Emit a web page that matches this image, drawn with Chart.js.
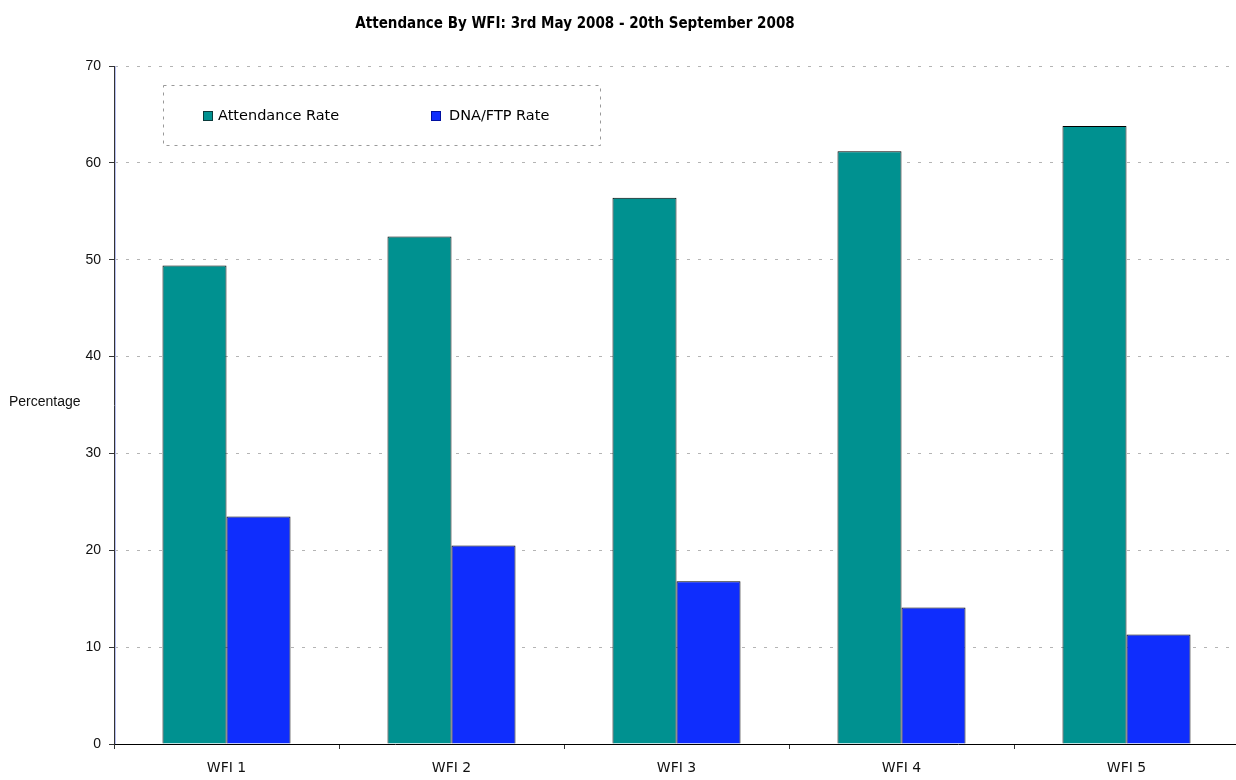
<!DOCTYPE html>
<html>
<head>
<meta charset="utf-8">
<script src="https://cdn.jsdelivr.net/npm/chart.js@4/dist/chart.umd.min.js"></script>
<style>
  html, body { margin: 0; padding: 0; background: #fff; overflow: hidden; }
  canvas { display: block; }
</style>
</head>
<body>
<canvas id="wfiChart" width="1239" height="780"></canvas>
<script>
const categories = ['WFI 1', 'WFI 2', 'WFI 3', 'WFI 4', 'WFI 5'];
const attendanceRate = [49.4, 52.4, 56.4, 61.2, 63.8];
const dnaFtpRate = [23.5, 20.5, 16.8, 14.1, 11.3];
const seriesLabels = ['Attendance Rate', 'DNA/FTP Rate'];
const chartTitle = 'Attendance By WFI: 3rd May 2008 - 20th September 2008';
const yAxisTitle = 'Percentage';

const tealColor = '#009190';
const blueColor = '#0f2dfd';

// title, axis title, legend box drawn on top of the chart
const extras = {
  id: 'extras',
  afterDraw(chart) {
    const c = chart.ctx;
    const area = chart.chartArea;
    c.save();
    // light blue stripe beside the y axis
    c.strokeStyle = '#b8c0f0';
    c.lineWidth = 1;
    c.beginPath();
    c.moveTo(area.left + 1.5, area.top);
    c.lineTo(area.left + 1.5, area.bottom);
    c.stroke();

    c.fillStyle = '#000';
    c.font = 'bold 15px "DejaVu Sans Condensed"';
    c.textAlign = 'center';
    c.textBaseline = 'middle';
    c.fillText(chartTitle, 575, 24);

    c.font = '14px "Liberation Sans"';
    c.textAlign = 'left';
    c.fillStyle = '#111';
    c.fillText(yAxisTitle, 9, 402);

    // legend
    c.setLineDash([3, 5]);
    c.strokeStyle = '#999';
    c.strokeRect(163.5, 85.5, 437, 60);
    c.setLineDash([]);
    const items = [[203, 218], [431, 449]];
    chart.data.datasets.forEach((ds, i) => {
      const [bx, tx] = items[i];
      c.fillStyle = ds.backgroundColor;
      c.fillRect(bx, 111, 10, 10);
      c.strokeStyle = i === 0 ? '#0b3a3a' : '#0010a0';
      c.strokeRect(bx + 0.5, 111.5, 9, 9);
      c.fillStyle = '#000';
      c.font = '14.5px "DejaVu Sans"';
      c.textBaseline = 'middle';
      c.fillText(ds.label, tx, 116);
    });
    c.restore();
  }
};

new Chart(document.getElementById('wfiChart'), {
  type: 'bar',
  data: {
    labels: categories,
    datasets: [{
      label: seriesLabels[0],
      data: attendanceRate,
      backgroundColor: tealColor,
      borderColor: '#000',
      borderWidth: 1,
      borderSkipped: 'bottom',
      categoryPercentage: 0.569,
      barPercentage: 1
    }, {
      label: seriesLabels[1],
      data: dnaFtpRate,
      backgroundColor: blueColor,
      borderColor: '#000',
      borderWidth: 1,
      borderSkipped: 'bottom',
      categoryPercentage: 0.569,
      barPercentage: 1
    }]
  },
  options: {
    responsive: false,
    animation: false,
    layout: { padding: { top: 66, left: 0, right: 0, bottom: 0 } },
    plugins: {
      legend: { display: false },
      title: { display: false },
      tooltip: { enabled: false }
    },
    scales: {
      x: {
        afterFit: s => { s.height = 36; },
        grid: {
          offset: true,
          drawOnChartArea: false,
          drawTicks: true,
          tickLength: 5,
          tickColor: '#333'
        },
        border: { color: '#000', width: 1 },
        ticks: {
          color: '#111',
          font: { family: 'DejaVu Sans', size: 14 },
          padding: 11
        }
      },
      y: {
        min: 0,
        max: 70,
        afterFit: s => { s.width = 114; },
        ticks: {
          stepSize: 10,
          color: '#111',
          font: { family: 'Liberation Sans', size: 14 },
          padding: 8
        },
        grid: {
          color: '#b4b4b4',
          tickBorderDash: [],
          tickColor: '#333',
          tickLength: 5
        },
        border: { color: '#333', width: 1, dash: [3, 8] }
      }
    }
  },
  plugins: [extras]
});
</script>
</body>
</html>
